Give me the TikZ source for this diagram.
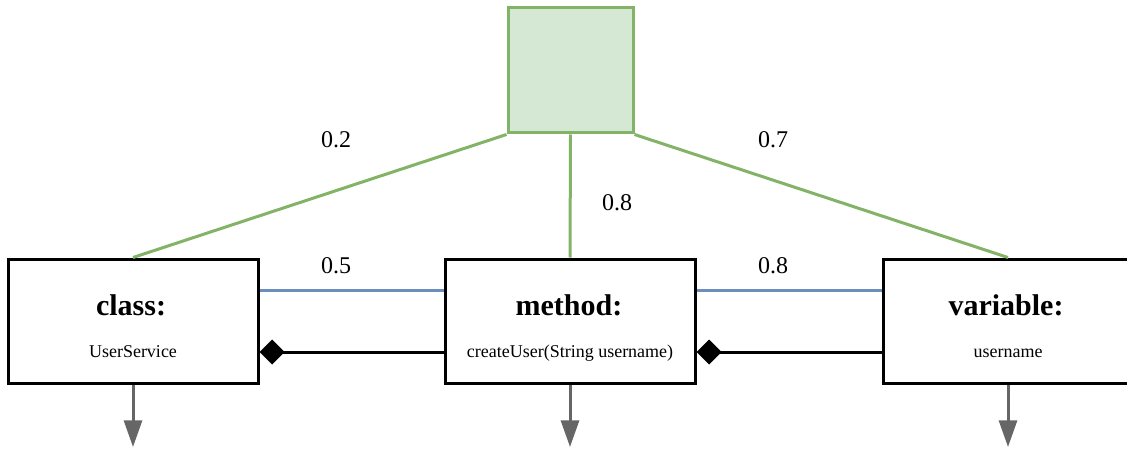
\documentclass[tikz,border=0pt]{standalone}
\usepackage{fontspec}
\setmainfont{Liberation Serif}
\usetikzlibrary{arrows.meta,calc}
\definecolor{gfill}{HTML}{D5E8D4}
\definecolor{gline}{HTML}{82B366}
\definecolor{bline}{HTML}{6C8EBF}
\definecolor{arrgray}{HTML}{666666}
\begin{document}
\begin{tikzpicture}[x=0.75pt,y=-0.75pt,
  umlbox/.style={draw=black,line width=2.25pt,fill=white,minimum width=187.5pt,minimum height=93pt,inner sep=0pt},
  title/.style={font=\fontsize{22.5}{26}\selectfont\bfseries,anchor=base,inner sep=0pt},
  sub/.style={font=\fontsize{13.5}{16}\selectfont,anchor=base,inner sep=0pt},
  lbl/.style={font=\fontsize{18}{21}\selectfont,anchor=base,inner sep=0pt},
  gconn/.style={draw=gline,line width=2.25pt},
  bconn/.style={draw=bline,line width=2.25pt},
  comp/.style={draw=black,line width=2.25pt,{Diamond[length=18.75pt,width=18.75pt]}-},
  down/.style={draw=arrgray,line width=2.25pt,-{Triangle[length=20pt,width=13.5pt]}}
]
\clip (0,0) rectangle (1127,449);
\useasboundingbox (0,0) rectangle (1127,449);
\node[draw=gline,fill=gfill,line width=2.25pt,minimum width=93.75pt,minimum height=93.75pt,inner sep=0pt] (sq) at (570.5,70.5) {};
\node[umlbox] (cls) at (133,321) {};
\node[umlbox] (mth) at (570,321) {};
\node[umlbox] (var) at (1008,321) {};
\node[title] (clsT) at (131,315) {class:};
\node[sub] (clsS) at (133,357) {UserService};
\node[title] (mthT) at (569,315) {method:};
\node[sub] (mthS) at (570,357) {createUser(String username)};
\node[title] (varT) at (1006,315) {variable:};
\node[sub] (varS) at (1008,357) {username};
\draw[gconn] (sq.south west) -- (cls.north);
\draw[gconn] (sq.south) -- (mth.north);
\draw[gconn] (sq.south east) -- (var.north);
\draw[bconn] (cls.east |- 0,290) -- (mth.west |- 0,290);
\draw[bconn] (mth.east |- 0,290) -- (var.west |- 0,290);
\draw[comp] (cls.east |- 0,352) -- (mth.west |- 0,352);
\draw[comp] (mth.east |- 0,352) -- (var.west |- 0,352);
\coordinate (c1) at (133,447);
\coordinate (c2) at (570,447);
\coordinate (c3) at (1008,447);
\draw[down] (cls.south) -- (c1);
\draw[down] (mth.south) -- (c2);
\draw[down] (var.south) -- (c3);
\node[lbl] (l1) at (336,148) {0.2};
\node[lbl] (l2) at (617,210) {0.8};
\node[lbl] (l3) at (773,148) {0.7};
\node[lbl] (l4) at (336,273) {0.5};
\node[lbl] (l5) at (773,273) {0.8};
\end{tikzpicture}
\end{document}
